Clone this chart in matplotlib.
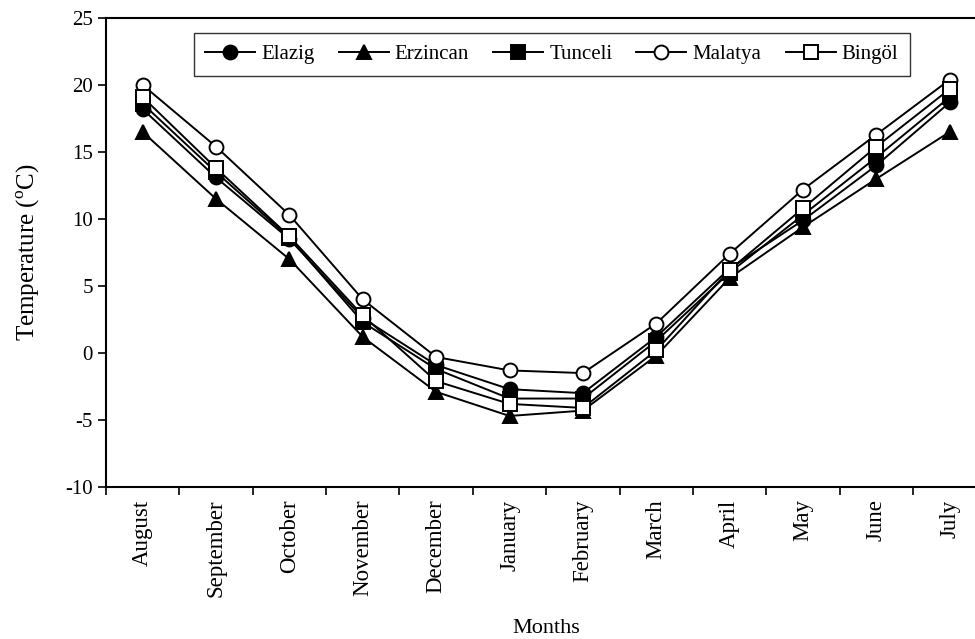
import matplotlib
matplotlib.use("Agg")
import matplotlib.pyplot as plt

plt.rcParams["font.family"] = ["Liberation Serif", "DejaVu Serif"]
plt.rcParams["mathtext.fontset"] = "custom"
plt.rcParams["mathtext.rm"] = "Liberation Serif"
plt.rcParams["axes.unicode_minus"] = False

months = ["August", "September", "October", "November", "December", "January",
          "February", "March", "April", "May", "June", "July"]

elazig = [18.2, 13.1, 8.5, 2.6, -0.9, -2.7, -3.0, 1.2, 6.3, 9.9, 14.0, 18.7]
erzincan = [16.5, 11.5, 7.0, 1.2, -2.9, -4.7, -4.3, -0.2, 5.6, 9.4, 13.0, 16.5]
tunceli = [18.6, 13.5, 8.6, 2.3, -1.2, -3.4, -3.4, 0.9, 6.0, 10.3, 14.6, 19.1]
malatya = [20.0, 15.4, 10.3, 4.0, -0.3, -1.3, -1.5, 2.2, 7.4, 12.2, 16.3, 20.4]
bingol = [19.1, 13.8, 8.7, 2.8, -2.1, -3.8, -4.1, 0.2, 6.2, 10.8, 15.4, 19.7]

series = [
    ("Elazig", elazig, "o", "black"),
    ("Erzincan", erzincan, "^", "black"),
    ("Tunceli", tunceli, "s", "black"),
    ("Malatya", malatya, "o", "white"),
    ("Bingöl", bingol, "s", "white"),
]

fig = plt.figure(figsize=(9.75, 6.39), dpi=100)
ax = fig.add_axes([0.1087, 0.2379, 0.9030, 0.7339])

x = list(range(len(months)))
for name, vals, mk, fc in series:
    ax.plot(x, vals, color="black", lw=1.4, marker=mk, markersize=10,
            markerfacecolor=fc, markeredgecolor="black", markeredgewidth=1.4,
            label=name)

ax.set_xlim(-0.5, len(months) - 0.5)
ax.set_ylim(-10, 25)
ax.set_yticks(range(-10, 26, 5))
ax.set_xticks([i - 0.5 for i in range(len(months))])
ax.set_xticklabels([])
ax.set_xticks(x, minor=True)
ax.set_xticklabels(months, minor=True, rotation=90, fontsize=16.5)
ax.tick_params(axis="x", which="minor", length=0, pad=9)
ax.tick_params(axis="x", which="major", length=6, width=1.2, direction="out")
ax.tick_params(axis="y", length=6, width=1.2, direction="out", labelsize=15)

for sp in ax.spines.values():
    sp.set_linewidth(1.5)

ax.set_ylabel("Temperature ($^{\\mathrm{o}}$C)", fontsize=18, labelpad=17)
ax.set_xlabel("Months", fontsize=16, labelpad=16)

leg = ax.legend(ncol=5, loc="upper left", bbox_to_anchor=(0.0995, 0.968),
                frameon=True, fancybox=False, edgecolor="black", fontsize=15,
                handlelength=2.4, handletextpad=0.3, columnspacing=1.15,
                borderpad=0.55, borderaxespad=0)
leg.get_frame().set_linewidth(1.0)

fig.savefig("out.png", dpi=100)
